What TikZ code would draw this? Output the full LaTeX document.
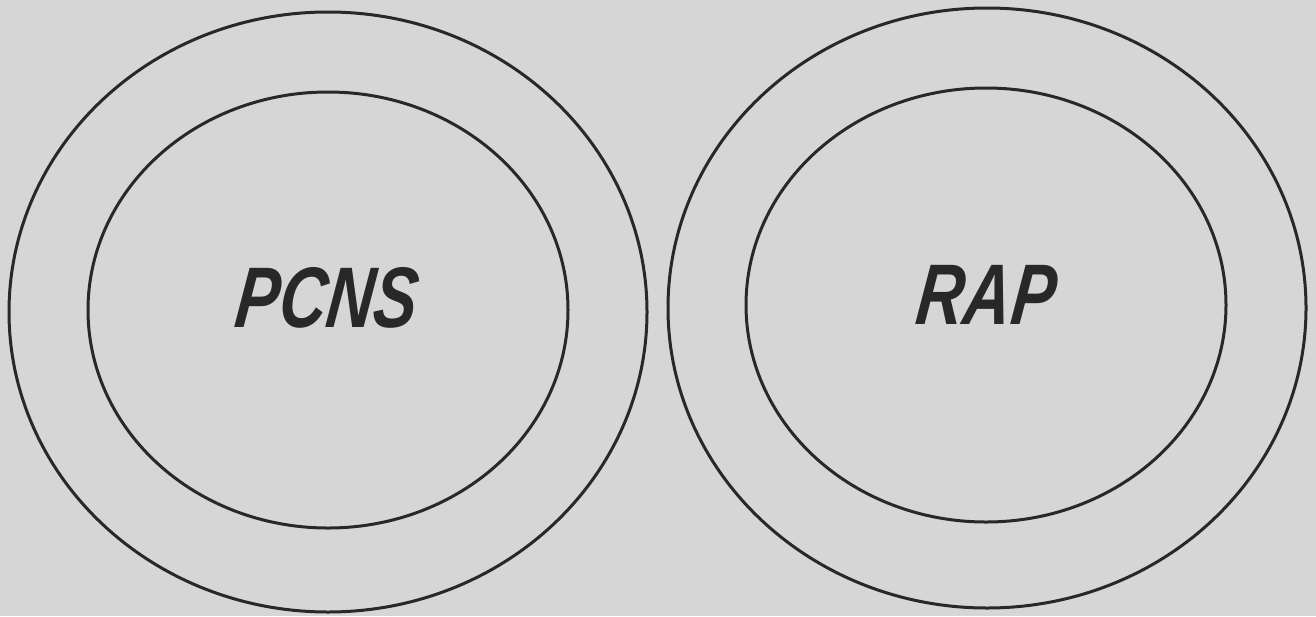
\documentclass[tikz,border=0pt]{standalone}
\usepackage{fontspec}
\setmainfont{Liberation Sans}
\definecolor{bg}{RGB}{214,214,214}
\definecolor{ink}{RGB}{40,40,40}
\begin{document}
\begin{tikzpicture}[x=1pt,y=-1pt,
  ring/.style={draw=ink,line width=3pt},
  lbl/.style={text=ink,font=\fontsize{86}{86}\selectfont\bfseries\itshape,inner sep=0pt,xscale=0.76,xslant=0.15}]
\fill[bg] (0,0) rectangle (1316,616);
\useasboundingbox (0,0) rectangle (1316,616);
\draw[ring] (328,312) ellipse [x radius=319, y radius=300];
\draw[ring] (328,310) ellipse [x radius=240, y radius=218];
\draw[ring] (987,308) ellipse [x radius=319, y radius=300];
\draw[ring] (986,305) ellipse [x radius=240, y radius=217];
\node[lbl] (pcns) at (328,298) {PCNS};
\node[lbl] (rap) at (987,295) {RAP};
\end{tikzpicture}
\end{document}
